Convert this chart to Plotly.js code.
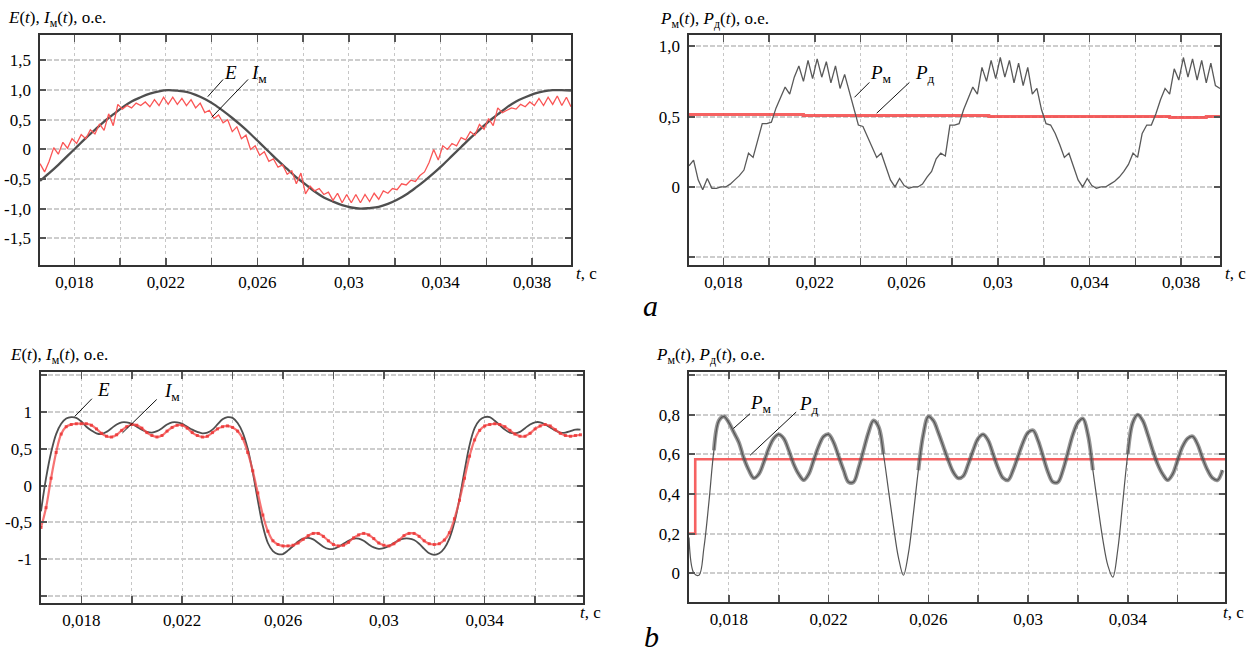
<!DOCTYPE html>
<html><head><meta charset="utf-8">
<script src="https://cdn.plot.ly/plotly-3.0.1.min.js"></script>
<style>html,body{margin:0;padding:0;background:#fff}#chart{width:1249px;height:655px}</style>
</head><body><div id="chart"></div>
<script>
// ---------- data ----------
const timeStartA = 0.0165;   // s, first sample of the "a" panels
const timeStepA  = 0.0002;   // s, sample step of I_m, P_m (a)
const timeStepAE = 0.0004;   // s, sample step of E (a)
const timeStartB = 0.0164;   // s, first sample of the "b" panels
const timeStepB  = 0.0002;   // s

const eA = [-0.53,-0.40,-0.26,-0.11,0.04,0.19,0.33,0.47,0.59,0.71,
  0.81,0.88,0.94,0.98,1.00,0.99,0.97,0.92,0.85,0.76,
  0.65,0.53,0.40,0.26,0.11,-0.04,-0.19,-0.33,-0.47,-0.59,
  -0.71,-0.81,-0.88,-0.94,-0.98,-1.00,-0.99,-0.97,-0.92,-0.85,
  -0.76,-0.65,-0.53,-0.40,-0.26,-0.11,0.04,0.19,0.33,0.47,
  0.59,0.71,0.81,0.88,0.94,0.98,1.00,1.00,0.99];

const imA = [-0.24,-0.38,-0.20,0.03,-0.08,0.12,0.02,0.18,0.10,0.25,
  0.18,0.33,0.26,0.43,0.32,0.60,0.40,0.76,0.68,0.74,
  0.70,0.78,0.74,0.80,0.72,0.84,0.74,0.88,0.76,0.88,
  0.76,0.86,0.74,0.84,0.70,0.78,0.62,0.66,0.52,0.58,
  0.45,0.50,0.30,0.38,0.18,0.24,0.00,0.06,-0.10,-0.04,
  -0.20,-0.16,-0.30,-0.26,-0.42,-0.36,-0.58,-0.40,-0.75,-0.62,
  -0.70,-0.66,-0.76,-0.72,-0.86,-0.74,-0.90,-0.76,-0.90,-0.76,
  -0.90,-0.76,-0.88,-0.74,-0.84,-0.70,-0.74,-0.66,-0.68,-0.58,
  -0.60,-0.52,-0.54,-0.44,-0.38,-0.22,0.00,-0.18,0.06,0.00,
  0.10,0.06,0.20,0.16,0.30,0.24,0.42,0.34,0.52,0.40,
  0.70,0.62,0.66,0.70,0.68,0.76,0.72,0.80,0.74,0.86,
  0.74,0.88,0.76,0.90,0.74,0.88,0.72];

const pmA = [0.15,0.19,0.05,-0.02,0.06,-0.01,-0.01,0.00,0.00,0.02,
  0.05,0.08,0.12,0.24,0.21,0.33,0.45,0.45,0.46,0.56,
  0.64,0.71,0.66,0.78,0.86,0.75,0.90,0.77,0.91,0.78,
  0.89,0.74,0.86,0.70,0.80,0.68,0.54,0.44,0.43,0.36,
  0.28,0.21,0.24,0.14,0.05,0.00,0.06,0.01,-0.01,0.00,
  0.00,0.02,0.07,0.11,0.20,0.24,0.22,0.44,0.44,0.45,
  0.55,0.63,0.71,0.66,0.85,0.75,0.90,0.77,0.92,0.78,
  0.90,0.74,0.88,0.72,0.85,0.66,0.70,0.55,0.45,0.44,
  0.38,0.30,0.21,0.24,0.14,0.05,0.00,0.06,0.01,-0.01,
  0.00,0.00,0.02,0.04,0.07,0.11,0.16,0.24,0.21,0.38,
  0.44,0.44,0.52,0.62,0.70,0.66,0.84,0.76,0.92,0.78,
  0.91,0.76,0.90,0.74,0.88,0.72,0.70];

const pdTimesA = [0.0165, 0.0215, 0.0296, 0.0375, 0.0391, 0.0397];
const pdA      = [0.515, 0.507, 0.500, 0.493, 0.500, 0.500];

const eB = [-0.35,0.10,0.45,0.70,0.84,0.91,0.93,0.92,0.87,0.80,
  0.75,0.71,0.70,0.73,0.78,0.83,0.86,0.86,0.84,0.80,
  0.76,0.73,0.72,0.74,0.78,0.83,0.86,0.86,0.84,0.80,
  0.76,0.73,0.71,0.72,0.76,0.83,0.90,0.93,0.92,0.85,
  0.72,0.50,0.18,-0.20,-0.55,-0.78,-0.89,-0.93,-0.93,-0.88,
  -0.82,-0.76,-0.72,-0.71,-0.73,-0.78,-0.83,-0.86,-0.86,-0.83,
  -0.79,-0.75,-0.72,-0.72,-0.75,-0.80,-0.84,-0.86,-0.85,-0.82,
  -0.78,-0.74,-0.72,-0.72,-0.74,-0.79,-0.86,-0.92,-0.94,-0.92,
  -0.85,-0.72,-0.50,-0.18,0.20,0.55,0.78,0.89,0.93,0.93,
  0.88,0.82,0.76,0.72,0.71,0.73,0.78,0.83,0.86,0.86,
  0.83,0.79,0.75,0.72,0.72,0.74,0.76,0.76];

const imB = [-0.57,-0.30,0.10,0.45,0.70,0.80,0.83,0.84,0.84,0.84,
  0.82,0.77,0.71,0.67,0.66,0.69,0.75,0.80,0.83,0.82,
  0.78,0.72,0.68,0.66,0.68,0.74,0.79,0.82,0.82,0.78,
  0.72,0.68,0.66,0.67,0.72,0.77,0.80,0.81,0.79,0.74,
  0.64,0.45,0.20,-0.10,-0.40,-0.62,-0.75,-0.80,-0.82,-0.82,
  -0.81,-0.78,-0.73,-0.68,-0.65,-0.65,-0.69,-0.75,-0.80,-0.82,
  -0.81,-0.77,-0.71,-0.67,-0.65,-0.67,-0.72,-0.78,-0.81,-0.82,
  -0.79,-0.74,-0.68,-0.65,-0.65,-0.69,-0.75,-0.79,-0.80,-0.79,
  -0.74,-0.64,-0.45,-0.20,0.10,0.40,0.62,0.75,0.81,0.83,
  0.84,0.83,0.80,0.75,0.70,0.67,0.67,0.71,0.77,0.81,
  0.83,0.81,0.76,0.71,0.68,0.67,0.68,0.69];

const pmB = [0.18,0.00,-0.01,0.13,0.36,0.62,0.77,0.79,0.76,0.71,
  0.66,0.58,0.52,0.48,0.50,0.56,0.63,0.68,0.70,0.68,
  0.62,0.55,0.50,0.47,0.50,0.57,0.64,0.69,0.70,0.66,
  0.59,0.52,0.46,0.46,0.53,0.62,0.71,0.77,0.74,0.60,
  0.42,0.24,0.08,-0.01,0.10,0.30,0.52,0.70,0.79,0.77,
  0.71,0.64,0.57,0.51,0.48,0.49,0.55,0.62,0.68,0.70,
  0.67,0.60,0.53,0.48,0.47,0.52,0.59,0.66,0.71,0.72,
  0.67,0.59,0.51,0.46,0.46,0.52,0.61,0.70,0.76,0.78,
  0.70,0.52,0.34,0.17,0.04,-0.02,0.12,0.36,0.60,0.76,
  0.80,0.77,0.70,0.62,0.55,0.50,0.47,0.50,0.57,0.64,
  0.68,0.69,0.65,0.58,0.52,0.48,0.47,0.52];

const pdTimesB = [0.0164, 0.01665, 0.0379];
const pdB      = [0.20, 0.575, 0.575];

// ticks
const xTickValsA = [0.018,0.020,0.022,0.024,0.026,0.028,0.030,0.032,0.034,0.036,0.038];
const xTickTextA = ['0,018','','0,022','','0,026','','0,03','','0,034','','0,038'];
const xTickValsB = [0.018,0.020,0.022,0.024,0.026,0.028,0.030,0.032,0.034,0.036];
const xTickTextB = ['0,018','','0,022','','0,026','','0,03','','0,034',''];
const yTickValsA1 = [-1.5,-1.0,-0.5,0,0.5,1.0,1.5];
const yTickTextA1 = ['-1,5','-1,0','-0,5','0','0,5','1,0','1,5'];
const yTickValsA2 = [-0.5,0,0.5,1.0];
const yTickTextA2 = ['','0','0,5','1,0'];
const yTickValsB1 = [-1.5,-1,-0.5,0,0.5,1,1.5];
const yTickTextB1 = ['','-1','-0,5','0','0,5','1',''];
const yTickValsB2 = [0,0.2,0.4,0.6,0.8,1.0];
const yTickTextB2 = ['0','0,2','0,4','0,6','0,8',''];

// ---------- drawing ----------
const W = 1249, H = 655;
const serif = "'Liberation Serif', 'DejaVu Serif', serif";
const px = x => x / W, py = y => 1 - y / H;

function xa(pl, pr, range, vals, text, anchor) {
  return {domain:[px(pl), px(pr)], range:range, anchor:anchor, tickvals:vals, ticktext:text,
    ticks:'inside', ticklen:7, tickwidth:1.5, tickcolor:'#555',
    showline:true, linecolor:'#333', linewidth:1.6, mirror:'ticks',
    showgrid:true, gridcolor:'#c6c6c6', griddash:'dot', gridwidth:1, zeroline:false,
    tickfont:{family:serif, size:17, color:'#000'}, ticklabelstandoff:1, fixedrange:true};
}
function ya(pt, pb, range, vals, text, anchor) {
  return {domain:[py(pb), py(pt)], range:range, anchor:anchor, tickvals:vals, ticktext:text,
    ticks:'inside', ticklen:6, tickwidth:2, tickcolor:'#555',
    showline:true, linecolor:'#333', linewidth:1.6, mirror:'ticks',
    showgrid:true, gridcolor:'#cdcdcd', griddash:'5px,2px', gridwidth:2, zeroline:false,
    tickfont:{family:serif, size:17, color:'#000'}, ticklabelstandoff:4, fixedrange:true};
}

const gray = '#4f4f4f', red = 'rgb(250,85,85)';
const traces = [
  {x0:timeStartA, dx:timeStepAE, y:eA, xaxis:'x', yaxis:'y', mode:'lines', line:{color:gray, width:2.3, shape:'spline'}},
  {x0:timeStartA, dx:timeStepA, y:imA, xaxis:'x', yaxis:'y', mode:'lines', line:{color:red, width:1.3}},
  {x:pdTimesA, y:pdA, xaxis:'x2', yaxis:'y2', mode:'lines', line:{color:'rgba(245,70,70,0.85)', width:3, shape:'hv'}},
  {x0:timeStartA, dx:timeStepA, y:pmA, xaxis:'x2', yaxis:'y2', mode:'lines', line:{color:'#595959', width:1.3}},
  {x0:timeStartB, dx:timeStepB, y:eB, xaxis:'x3', yaxis:'y3', mode:'lines', line:{color:gray, width:1.8, shape:'spline'}},
  {x0:timeStartB, dx:timeStepB, y:imB, xaxis:'x3', yaxis:'y3', mode:'lines+markers', line:{color:'rgba(245,80,80,0.8)', width:2.2, shape:'spline'}, marker:{color:'rgba(235,50,50,0.8)', size:3, symbol:'square'}},
  {x:pdTimesB, y:pdB, xaxis:'x4', yaxis:'y4', mode:'lines', line:{color:'rgba(245,70,70,0.85)', width:2.6, shape:'hv'}},
  {x0:timeStartB, dx:timeStepB, y:pmB.map(v => v >= 0.45 ? v : null), xaxis:'x4', yaxis:'y4', mode:'lines', line:{color:'rgba(80,80,80,0.6)', width:4, shape:'spline'}, connectgaps:false},
  {x0:timeStartB, dx:timeStepB, y:pmB, xaxis:'x4', yaxis:'y4', mode:'lines', line:{color:'#555', width:1.2, shape:'spline'}}
];

function paperText(x, y, text, size, anchor) {
  return {xref:'paper', yref:'paper', x:px(x), y:py(y), text:text, showarrow:false,
    xanchor:anchor || 'left', yanchor:'middle', font:{family:serif, size:size, color:'#000'}};
}
function dataText(xr, yr, x, y, text) {
  return {xref:xr, yref:yr, x:x, y:y, text:text, showarrow:false, xanchor:'center', yanchor:'middle',
    font:{family:serif, size:19, color:'#000'}};
}
function leader(xr, yr, x0, y0, x1, y1) {
  return {type:'line', xref:xr, yref:yr, x0:x0, y0:y0, x1:x1, y1:y1, line:{color:'#111', width:1}};
}
const titleEI = '<i>E</i>(<i>t</i>), <i>I</i><sub>м</sub>(<i>t</i>), о.е.';
const titleP  = '<i>P</i><sub>м</sub>(<i>t</i>), <i>P</i><sub>д</sub>(<i>t</i>), о.е.';
const tLabel  = '<i>t</i>, с';

const annotations = [
  paperText(6, 19, titleEI, 17), paperText(658, 20, titleP, 17),
  paperText(8, 356, titleEI, 17), paperText(654, 356, titleP, 17),
  paperText(574, 273, tLabel, 17), paperText(1223, 273, tLabel, 17),
  paperText(578, 612, tLabel, 17), paperText(1246, 612, tLabel, 17, 'right'),
  paperText(650, 305, '<i>a</i>', 30, 'center'), paperText(651, 636, '<i>b</i>', 30, 'center'),
  dataText('x','y', 0.02484, 1.30, '<i>E</i>'), dataText('x','y', 0.02605, 1.28, '<i>I</i><sub>м</sub>'),
  dataText('x2','y2', 0.0249, 0.80, '<i>P</i><sub>м</sub>'), dataText('x2','y2', 0.0268, 0.80, '<i>P</i><sub>д</sub>'),
  dataText('x3','y3', 0.01887, 1.30, '<i>E</i>'), dataText('x3','y3', 0.0216, 1.27, '<i>I</i><sub>м</sub>'),
  dataText('x4','y4', 0.0193, 0.855, '<i>P</i><sub>м</sub>'), dataText('x4','y4', 0.0212, 0.847, '<i>P</i><sub>д</sub>')
];
const shapes = [
  leader('x','y', 0.0245, 1.18, 0.02383, 0.89), leader('x','y', 0.02559, 1.18, 0.0240, 0.54),
  leader('x2','y2', 0.02438, 0.743, 0.02373, 0.637), leader('x2','y2', 0.02613, 0.743, 0.0247, 0.524),
  leader('x3','y3', 0.01842, 1.18, 0.01774, 0.94), leader('x3','y3', 0.02099, 1.17, 0.01963, 0.715),
  leader('x4','y4', 0.01885, 0.805, 0.01818, 0.73), leader('x4','y4', 0.0207, 0.813, 0.01885, 0.595)
];

const layout = {
  width:W, height:H, margin:{l:0, r:0, t:0, b:0}, paper_bgcolor:'#fff', plot_bgcolor:'#fff', showlegend:false,
  font:{family:serif},
  xaxis:  xa(40, 571, [0.0165, 0.0397], xTickValsA, xTickTextA, 'y'),
  yaxis:  ya(35, 265, [-1.95, 1.93], yTickValsA1, yTickTextA1, 'x'),
  xaxis2: xa(689, 1220, [0.0165, 0.0397], xTickValsA, xTickTextA, 'y2'),
  yaxis2: ya(35, 265, [-0.555, 1.08], yTickValsA2, yTickTextA2, 'x2'),
  xaxis3: xa(41, 583, [0.0164, 0.0379], xTickValsB, xTickTextB, 'y3'),
  yaxis3: ya(372, 603, [-1.595, 1.543], yTickValsB1, yTickTextB1, 'x3'),
  xaxis4: xa(689, 1225, [0.0164, 0.0379], xTickValsB, xTickTextB, 'y4'),
  yaxis4: ya(372, 602, [-0.145, 1.015], yTickValsB2, yTickTextB2, 'x4'),
  annotations:annotations, shapes:shapes
};
Plotly.newPlot('chart', traces, layout, {staticPlot:true, displayModeBar:false});
</script></body></html>
